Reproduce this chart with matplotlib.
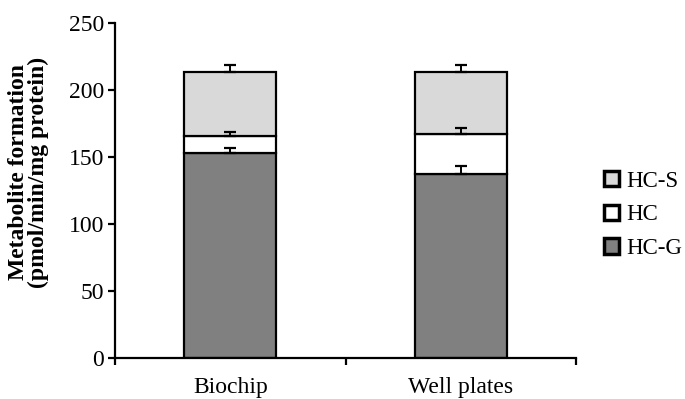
import numpy as np
import matplotlib.pyplot as plt

plt.rcParams['font.family'] = ['Liberation Serif', 'DejaVu Serif']

categories = ['Biochip', 'Well plates']
series = ['HC-G', 'HC', 'HC-S']
hc_g = [153, 137]
hc = [13, 30]
hc_s = [47.5, 46.5]
hc_g_err = [3.5, 6.5]
hc_err = [2.5, 5]
hc_s_err = [5.5, 5.5]
y_ticks = [0, 50, 100, 150, 200, 250]

colors = ['#808080', '#ffffff', '#d9d9d9']

fig = plt.figure(figsize=(6.85, 3.99), dpi=100)
ax = fig.add_axes([115 / 685, 1 - 358 / 399, 461 / 685, 335 / 399])

x = np.arange(len(categories))
values = [hc_g, hc, hc_s]
errors = [hc_g_err, hc_err, hc_s_err]
bottom = np.zeros(len(categories))
handles = []
for vals, errs, col, name in zip(values, errors, colors, series):
    vals = np.array(vals)
    b = ax.bar(x, vals, width=0.4, bottom=bottom, color=col,
               edgecolor='black', linewidth=1.6, label=name, zorder=2)
    handles.append(b)
    ax.errorbar(x, bottom + vals, yerr=[np.zeros(len(x)), errs], fmt='none',
                ecolor='black', elinewidth=1.4, capsize=4, capthick=1.6, zorder=3)
    bottom = bottom + vals

ax.set_xlim(-0.5, 1.5)
ax.set_ylim(0, 250)
ax.set_yticks(y_ticks)
ax.set_xticks([-0.5, 0.5, 1.5])
ax.set_xticklabels([])
ax.set_xticks(x, minor=True)
ax.set_xticklabels(categories, minor=True)
ax.tick_params(axis='x', which='minor', length=0, pad=14, labelsize=17)
ax.tick_params(axis='x', which='major', length=5, width=1.6, direction='out')
ax.tick_params(axis='y', length=5, width=1.6, direction='out', labelsize=17, pad=3)

for s in ['top', 'right']:
    ax.spines[s].set_visible(False)
for s in ['left', 'bottom']:
    ax.spines[s].set_linewidth(1.6)

ax.set_ylabel('Metabolite formation\n(pmol/min/mg protein)', fontsize=17,
              fontweight='bold', linespacing=0.95)
ax.yaxis.set_label_coords(-0.143, 0.555)

leg = ax.legend(handles[::-1], series[::-1], loc='center left',
                bbox_to_anchor=(1.017, 0.427), frameon=False, fontsize=16.5,
                handlelength=0.65, handleheight=0.65, handletextpad=0.3,
                labelspacing=0.55)
for h in leg.legend_handles:
    h.set_linewidth(2.5)

fig.savefig('out.png', dpi=100)
